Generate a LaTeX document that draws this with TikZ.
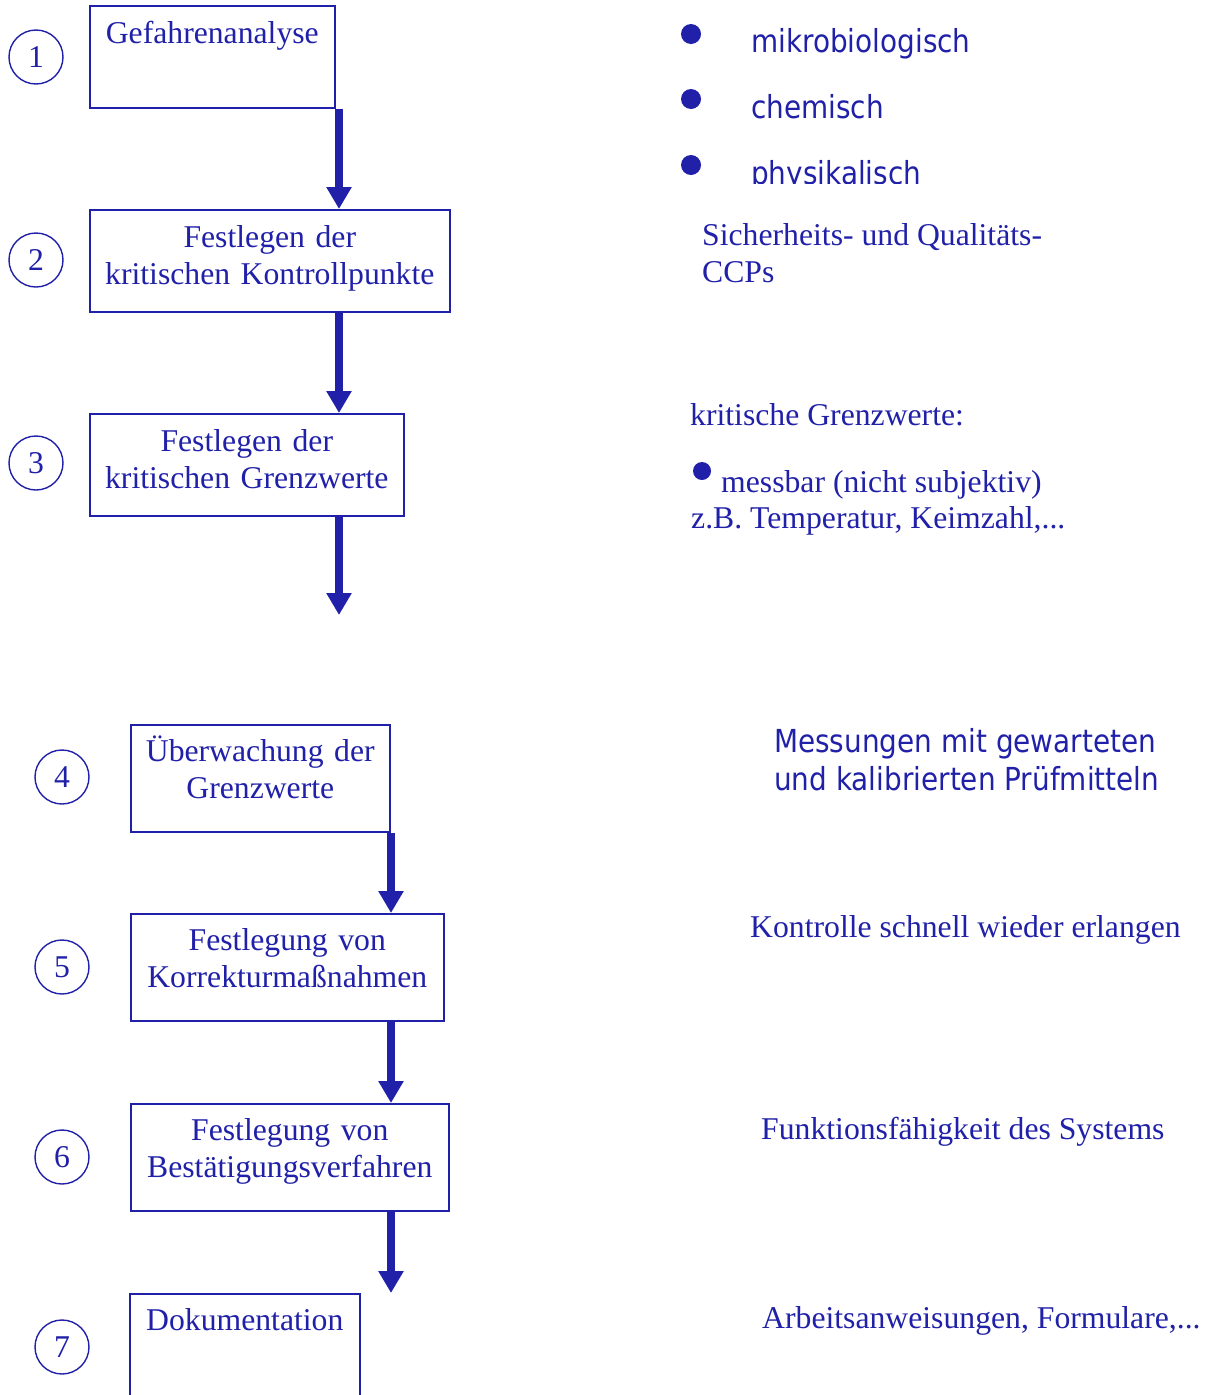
\documentclass[tikz,border=0pt]{standalone}
\usepackage{fontspec}
\setmainfont{Liberation Serif}
\newfontfamily\tahomalike[FakeStretch=0.88]{DejaVu Sans}
\usepackage{xcolor}
\usetikzlibrary{arrows.meta, positioning, calc}

\definecolor{haccpblue}{RGB}{32,32,168}

\tikzset{
  stepbox/.style={draw=haccpblue, line width=1.6pt, anchor=north west, inner xsep=0pt, align=center, text height=22pt},
  upperbox/.style={stepbox, inner ysep=16pt, text depth=48pt},
  lowerbox/.style={stepbox, inner ysep=15pt, text depth=55pt},
  stepno/.style={draw=haccpblue, line width=1.4pt, circle, minimum size=54pt, inner sep=0pt},
  flowarrow/.style={draw=haccpblue, line width=8pt, -{Triangle[length=22pt, width=24pt]}},
  note/.style={anchor=base west, inner sep=0pt, align=left},
  sansnote/.style={note, font=\tahomalike\fontsize{31.7}{38}\selectfont},
  bulletdot/.style={circle, fill=haccpblue, inner sep=0pt, minimum size=20pt},
}

\begin{document}
\begin{tikzpicture}[x=1pt, y=-1pt, text=haccpblue, font=\fontsize{31.7}{37}\selectfont]
    \useasboundingbox (0,0) rectangle (1209,1395);

    % Steps 1-3
    \node[stepno] (n1) at (36,57) {1};
    \node[stepno] (n2) at (36,260) {2};
    \node[stepno] (n3) at (36,463) {3};
    \node[upperbox, text width=245pt] (s1) at (89,5) {Gefahrenanalyse};
    \node[upperbox, text width=360pt] (s2) at (89,209) {Festlegen der\\kritischen Kontrollpunkte};
    \node[upperbox, text width=314pt] (s3) at (89,413) {Festlegen der\\kritischen Grenzwerte};

    \coordinate (upx) at (339,0);
    \coordinate (gap) at (339,615);
    \draw[flowarrow] (s1.south -| upx) -- (s2.north -| upx);
    \draw[flowarrow] (s2.south -| upx) -- (s3.north -| upx);
    \draw[flowarrow] (s3.south -| upx) -- (gap);

    % Steps 4-7
    \node[stepno] (n4) at (62,777) {4};
    \node[stepno] (n5) at (62,967) {5};
    \node[stepno] (n6) at (62,1157) {6};
    \node[stepno] (n7) at (62,1347) {7};
    \node[lowerbox, text width=259pt] (s4) at (130,724) {Überwachung der\\Grenzwerte};
    \node[lowerbox, text width=313pt] (s5) at (130,913) {Festlegung von\\Korrekturmaßnahmen};
    \node[lowerbox, text width=318pt] (s6) at (130,1103) {Festlegung von\\Bestätigungsverfahren};
    \node[lowerbox, text width=230pt] (s7) at (129,1293) {Dokumentation};

    \coordinate (lowx) at (391,0);
    \draw[flowarrow] (s4.south -| lowx) -- (s5.north -| lowx);
    \draw[flowarrow] (s5.south -| lowx) -- (s6.north -| lowx);
    \draw[flowarrow] (s6.south -| lowx) -- (s7.north -| lowx);

    % Hazards
    \node[bulletdot] (d1) at (691,34) {};
    \node[sansnote] (mikro) at (751,52) {mikrobiologisch};
    \node[bulletdot] (d2) at (691,99) {};
    \node[sansnote] (chem) at (751,118) {chemisch};
    \node[bulletdot] (d3) at (691,165) {};
    \begin{scope}
      \clip (700,130) rectangle (1000,183.5);
      \node[sansnote] (phys) at (751,184) {physikalisch};
    \end{scope}
    \node[note] (ccp) at (702,282) {Sicherheits- und Qualitäts-\\CCPs};

    % Limits
    \node[note] (kgw) at (690,425) {kritische Grenzwerte:};
    \node[bulletdot, minimum size=18pt] (d4) at (702,471) {};
    \node[note] (mess) at (721,492) {messbar (nicht subjektiv)};
    \node[note] (zb) at (691,528) {z.B. Temperatur, Keimzahl,...};

    % Remarks on steps 4-7
    \node[sansnote] (pruef) at (774,790) {Messungen mit gewarteten\\und kalibrierten Prüfmitteln};
    \node[note] (korr) at (750,937) {Kontrolle schnell wieder erlangen};
    \node[note] (verif) at (761,1139) {Funktionsfähigkeit des Systems};
    \node[note] (doku) at (762,1328) {Arbeitsanweisungen, Formulare,...};
\end{tikzpicture}
\end{document}
